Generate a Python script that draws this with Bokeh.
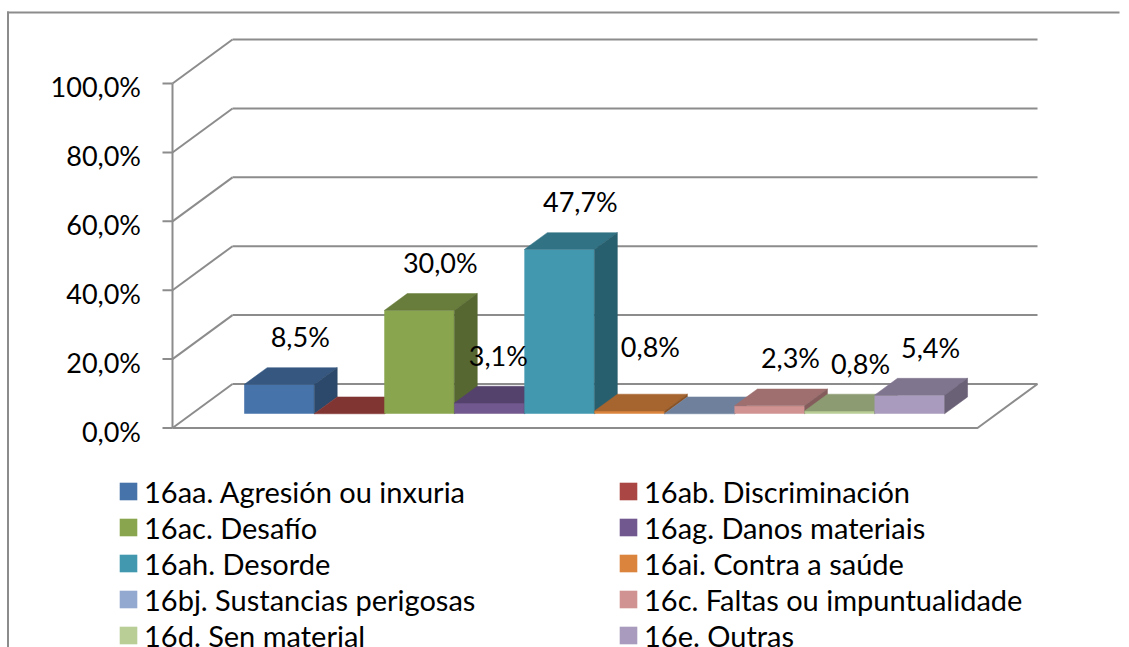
import numpy as np
from bokeh.plotting import figure
from bokeh.models import Range1d, Legend, LegendItem, ColumnDataSource
from bokeh.core.properties import value
from bokeh.embed import file_html
from bokeh.resources import INLINE

# ---------------- data ----------------
series = [
    "16aa. Agresión ou inxuria",
    "16ab. Discriminación",
    "16ac. Desafío",
    "16ag. Danos materiais",
    "16ah. Desorde",
    "16ai. Contra a saúde",
    "16bj. Sustancias perigosas",
    "16c. Faltas ou impuntualidade",
    "16d. Sen material",
    "16e. Outras",
]
values = [8.5, 0.0, 30.0, 3.1, 47.7, 0.8, 0.0, 2.3, 0.8, 5.4]
y_ticks = [0, 20, 40, 60, 80, 100]
y_tick_labels = ["0,0%", "20,0%", "40,0%", "60,0%", "80,0%", "100,0%"]

# ---------------- styles ----------------
colors = ["#4673A9", "#AA4643", "#89A54E", "#71588F", "#4198AF",
          "#DB843D", "#93A9CF", "#D19392", "#B9CD96", "#A99BBD"]
label_nudge_x = [0, 0, 0, -12, 0, 0, 0, 0, 0, 0]
label_nudge_y = [0, 0, 0, 0, 0, -17, 0, 0, 0, 0]
FONT = "Lato"
GRID = "#8c8c8c"

W, H = 1129, 647
PAGE = 0
X0, Y0 = 172.0, 427.5          # page px of origin (front plane)
XS, YS = 80.5, 3.4445          # px per category unit / per percent
DX, DY = 60.0 / XS, 44.0 / YS  # depth offsets (data units) for full depth
SLOTS = 10.0
BAR_W = 0.87
START = (SLOTS - BAR_W * len(values)) / 2
DF, DB = 0.323, 0.706          # bar front / back depth


def px_x(px):
    return (px - X0) / XS


def px_y(py):
    return (Y0 - py) / YS


def proj(u, d, v):
    return u + d * DX, v + d * DY


p = figure(width=W, height=H, output_backend="svg", toolbar_location=None,
           x_range=Range1d(px_x(PAGE), px_x(PAGE + W)),
           y_range=Range1d(px_y(PAGE + H), px_y(PAGE)),
           x_axis_location=None, y_axis_location=None,
           min_border=0, outline_line_color=None,
           background_fill_color="white", border_fill_color="white")
p.xgrid.visible = False
p.ygrid.visible = False

# outer chart border (left and top edges) as thin filled bands
p.quad(left=[px_x(6.5), px_x(6.5)], right=[px_x(8.5), px_x(1119)],
       top=[px_y(11), px_y(11)], bottom=[px_y(650), px_y(13)],
       fill_color=GRID, line_color=None)

# back wall gridlines + side wall diagonals
gx, gy = [], []
for t in y_ticks:
    a = proj(0, 1, t)
    b = proj(SLOTS, 1, t)
    gx.append([a[0], b[0]]); gy.append([a[1], b[1]])
    c = proj(0, 0, t)
    gx.append([c[0], a[0]]); gy.append([c[1], a[1]])
p.multi_line(gx, gy, line_color=GRID, line_width=2)

# floor front and right edges
f0 = proj(0, 0, 0); f1 = proj(SLOTS, 0, 0); f2 = proj(SLOTS, 1, 0)
p.line([f0[0], f1[0], f2[0]], [f0[1], f1[1], f2[1]], line_color=GRID, line_width=2)

# vertical axis line and ticks
a0 = proj(0, 0, y_ticks[0]); a1 = proj(0, 0, y_ticks[-1])
p.line([a0[0], a1[0]], [a0[1], a1[1]], line_color=GRID, line_width=2)
p.segment(x0=[px_x(162)] * len(y_ticks), y0=y_ticks,
          x1=[0] * len(y_ticks), y1=y_ticks, line_color=GRID, line_width=2)
p.text(x=[px_x(140.5)] * len(y_ticks), y=y_ticks, text=y_tick_labels,
       y_offset=3, text_font=value(FONT), text_font_size="27px", text_color="black",
       text_align="right", text_baseline="middle")


def shade(hexcol, k):
    h = hexcol.lstrip("#")
    r, g, b = (int(h[i:i + 2], 16) for i in (0, 2, 4))
    return "#%02x%02x%02x" % (int(r * k), int(g * k), int(b * k))


front_renderers = []
for i, (name, v, col) in enumerate(zip(series, values, colors)):
    uL = START + i * BAR_W
    uR = uL + BAR_W
    fl = proj(uL, DF, 0); fr = proj(uR, DF, v)
    r = p.quad(left=[fl[0]], right=[fr[0]], bottom=[fl[1]], top=[fr[1]],
               fill_color=col, line_color=None)
    front_renderers.append(r)
    pts = [proj(uL, DF, v), proj(uR, DF, v), proj(uR, DB, v), proj(uL, DB, v)]
    p.patch([q[0] for q in pts], [q[1] for q in pts],
            fill_color=shade(col, 0.76), line_color=shade(col, 0.76), line_width=0.5)
    pts = [proj(uR, DF, 0), proj(uR, DB, 0), proj(uR, DB, v), proj(uR, DF, v)]
    p.patch([q[0] for q in pts], [q[1] for q in pts],
            fill_color=shade(col, 0.63), line_color=shade(col, 0.63), line_width=0.5)

# data labels
lx, ly, lt, ox, oy = [], [], [], [], []
for i, v in enumerate(values):
    if v <= 0:
        continue
    uc = START + (i + 0.5) * BAR_W
    q = proj(uc, DF, v)
    lx.append(q[0]); ly.append(q[1])
    lt.append(("%.1f%%" % v).replace(".", ","))
    ox.append(21 + label_nudge_x[i]); oy.append(-48 + label_nudge_y[i])
src = ColumnDataSource(dict(x=lx, y=ly, t=lt, ox=ox, oy=oy))
p.text(x="x", y="y", text="t", x_offset="ox", y_offset="oy", source=src,
       text_font=value(FONT), text_font_size="27px", text_color="black",
       text_align="center", text_baseline="middle")


# legends (two columns)
GLY = 22  # legend glyph box (bokeh insets the swatch by 10%)


def make_legend(idx, x_px):
    items = [LegendItem(label=series[i], renderers=[front_renderers[i]]) for i in idx]
    lg = Legend(items=items, location=(x_px - PAGE - 2, (PAGE + H) - (473 + 36 * 5)),
                orientation="vertical", glyph_width=GLY, glyph_height=GLY,
                label_height=36, label_standoff=5, spacing=0, padding=0, margin=0,
                label_text_font=FONT, label_text_font_size="29px",
                label_text_color="black", background_fill_alpha=0,
                border_line_color=None)
    return lg


p.add_layout(make_legend([0, 2, 4, 6, 8], 119))
p.add_layout(make_legend([1, 3, 5, 7, 9], 619))

open("out.html", "w").write(file_html(p, INLINE))
